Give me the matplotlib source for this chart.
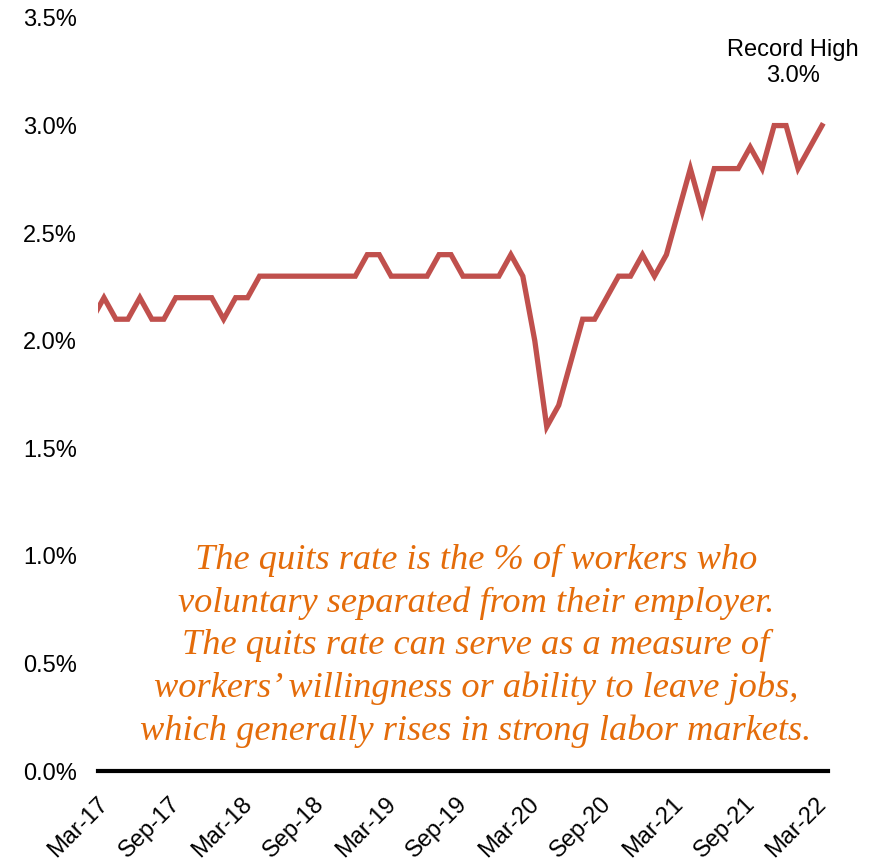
import matplotlib.pyplot as plt
from matplotlib.transforms import ScaledTranslation, blended_transform_factory

# Maandelijkse quits rate (%), Feb-17 t/m Mar-22 (Feb-17 valt links buiten de as)
months = ['Feb-17',
          'Mar-17', 'Apr-17', 'May-17', 'Jun-17', 'Jul-17', 'Aug-17', 'Sep-17', 'Oct-17', 'Nov-17', 'Dec-17',
          'Jan-18', 'Feb-18', 'Mar-18', 'Apr-18', 'May-18', 'Jun-18', 'Jul-18', 'Aug-18', 'Sep-18', 'Oct-18',
          'Nov-18', 'Dec-18', 'Jan-19', 'Feb-19', 'Mar-19', 'Apr-19', 'May-19', 'Jun-19', 'Jul-19', 'Aug-19',
          'Sep-19', 'Oct-19', 'Nov-19', 'Dec-19', 'Jan-20', 'Feb-20', 'Mar-20', 'Apr-20', 'May-20', 'Jun-20',
          'Jul-20', 'Aug-20', 'Sep-20', 'Oct-20', 'Nov-20', 'Dec-20', 'Jan-21', 'Feb-21', 'Mar-21', 'Apr-21',
          'May-21', 'Jun-21', 'Jul-21', 'Aug-21', 'Sep-21', 'Oct-21', 'Nov-21', 'Dec-21', 'Jan-22', 'Feb-22',
          'Mar-22']
quits_rate = [2.1,
              2.2, 2.1, 2.1, 2.2, 2.1, 2.1, 2.2, 2.2, 2.2, 2.2,
              2.1, 2.2, 2.2, 2.3, 2.3, 2.3, 2.3, 2.3, 2.3, 2.3,
              2.3, 2.3, 2.4, 2.4, 2.3, 2.3, 2.3, 2.3, 2.4, 2.4,
              2.3, 2.3, 2.3, 2.3, 2.4, 2.3, 2.0, 1.6, 1.7, 1.9,
              2.1, 2.1, 2.2, 2.3, 2.3, 2.4, 2.3, 2.4, 2.6, 2.8,
              2.6, 2.8, 2.8, 2.8, 2.9, 2.8, 3.0, 3.0, 2.8, 2.9,
              3.0]
tick_labels = ['Mar-17', 'Sep-17', 'Mar-18', 'Sep-18', 'Mar-19', 'Sep-19',
               'Mar-20', 'Sep-20', 'Mar-21', 'Sep-21', 'Mar-22']
y_ticks = [0.0, 0.5, 1.0, 1.5, 2.0, 2.5, 3.0, 3.5]

note = ("The quits rate is the % of workers who\n"
        "voluntary separated from their employer.\n"
        "The quits rate can serve as a measure of\n"
        "workers\u2019 willingness or ability to leave jobs,\n"
        "which generally rises in strong labor markets.")

plt.rcParams['font.family'] = ['Liberation Sans', 'DejaVu Sans']

fig = plt.figure(figsize=(8.86, 8.61), dpi=100)
ax = fig.add_axes([0.1106, 0.1045, 0.8239, 0.8746])

x = list(range(-1, len(months) - 1))  # index 0 = Mar-17
ax.plot(x, quits_rate, color='#C0504D', linewidth=3.8, solid_joinstyle='miter')

ax.set_xlim(-0.5, 60.5)
ax.set_ylim(0, 3.5)

# Assen opmaken
ax.set_yticks(y_ticks)
ax.set_yticklabels([f'{v:.1f}%' for v in y_ticks], fontsize=17)
ax.tick_params(axis='y', length=0, pad=15)
ax.set_xticks([])
for side in ['left', 'right', 'top']:
    ax.spines[side].set_visible(False)
ax.spines['bottom'].set_linewidth(3)
ax.spines['bottom'].set_color('black')

# x-labels zelf plaatsen (schuin, rechtsboven op de tick)
trans = blended_transform_factory(ax.transData, ax.transAxes) + \
    ScaledTranslation(9 / 100, -22 / 100, fig.dpi_scale_trans)
for pos, lbl in zip(range(0, 61, 6), tick_labels):
    ax.text(pos, 0, lbl, transform=trans, fontsize=17, rotation=45,
            ha='right', va='top', clip_on=False)

# Annotatie voor het record
ax.text(57.6, 3.29, 'Record High\n3.0%', fontsize=17, ha='center', va='center',
        linespacing=1.25)

# Uitleg tekst
ax.text(0.518, 0.166, note, transform=ax.transAxes, ha='center', va='center',
        fontsize=26.2, color='#E46C0A', style='italic', family='Liberation Serif',
        linespacing=1.37)

fig.savefig('out.png', dpi=100)
